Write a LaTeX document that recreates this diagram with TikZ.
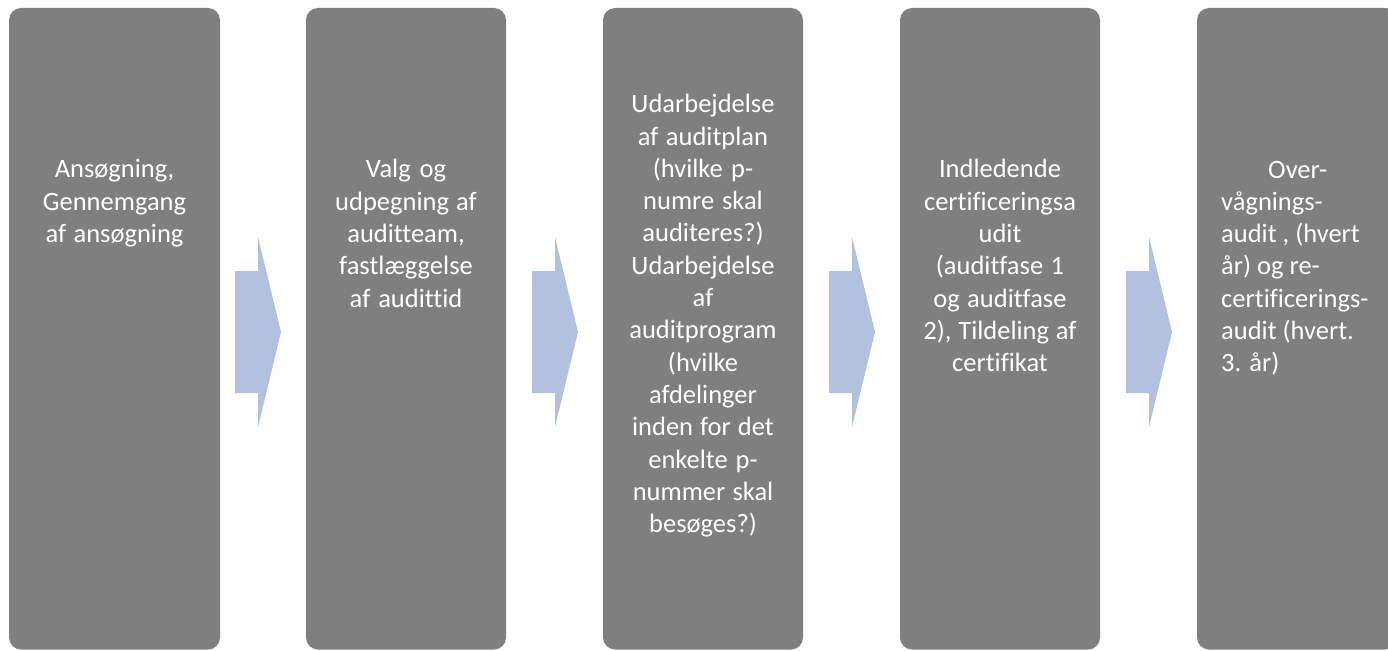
\documentclass[tikz,border=0pt]{standalone}
\usepackage{fontspec}
\setmainfont{Carlito}[Ligatures=NoCommon]
\usepackage{xcolor}
\usepackage{tikz}
\usetikzlibrary{calc}

\definecolor{phasegray}{HTML}{7F7F7F}
\definecolor{chevblue}{RGB}{177,193,222}

\begin{document}
\begin{tikzpicture}[x=1pt,y=-1pt,
        phase/.style={fill=phasegray,draw=none,rounded corners=12pt,inner sep=0pt,minimum height=641.5pt},
        phasetext/.style={text=white,align=center,inner sep=0pt,font=\fontsize{26.5}{32.3}\selectfont,
            execute at begin node={\spaceskip=0pt\xspaceskip=0pt}}]
        \useasboundingbox (0,0) rectangle (1388,650);
        \clip (0,0) rectangle (1388,650);

        % the five phases
        \node[phase,minimum width=211pt] (p1) at (114.5,328.75) {};
        \node[phase,minimum width=200pt] (p2) at (406,328.75) {};
        \node[phase,minimum width=200pt] (p3) at (703,328.75) {};
        \node[phase,minimum width=200pt] (p4) at (1000,328.75) {};
        \node[phase,minimum width=200pt] (p5) at (1297,328.75) {};

        % block arrows between the phases
        \foreach \x in {235,532,829,1126}
            \fill[chevblue] (\x,271) -- (\x+23,271) -- (\x+23,237) -- (\x+46,332)
                -- (\x+23,427) -- (\x+23,393) -- (\x,393) -- cycle;

        % texts
        \node[phasetext,text width=190pt,anchor=base] (t1) at ([yshift=-170pt]p1.north)
            {Ansøgning,\\Gennemgang\\af ansøgning};
        \node[phasetext,text width=180pt,anchor=base] (t2) at ([yshift=-170pt]p2.north)
            {Valg og\\udpegning af\\auditteam,\\fastlæggelse\\af audittid};
        \node[phasetext,text width=180pt,anchor=base] (t3) at ([yshift=-105pt]p3.north)
            {Udarbejdelse\\af auditplan\\(hvilke p-\\numre skal\\auditeres?)\\Udarbejdelse\\af\\auditprogram\\(hvilke\\afdelinger\\inden for det\\enkelte p-\\nummer skal\\besøges?)};
        \node[phasetext,text width=180pt,anchor=base] (t4) at ([yshift=-170pt]p4.north)
            {Indledende\\certificeringsa\\udit\\(auditfase 1\\og auditfase\\2), Tildeling af\\certifikat};
        \node[phasetext,align=left,text width=160pt,anchor=base west] (t5) at (1221,178)
            {\makebox[153pt]{Over-}\\vågnings-\\audit , (hvert\\år) og re-\\certificerings-\\audit (hvert.\\3. år)};
\end{tikzpicture}
\end{document}
